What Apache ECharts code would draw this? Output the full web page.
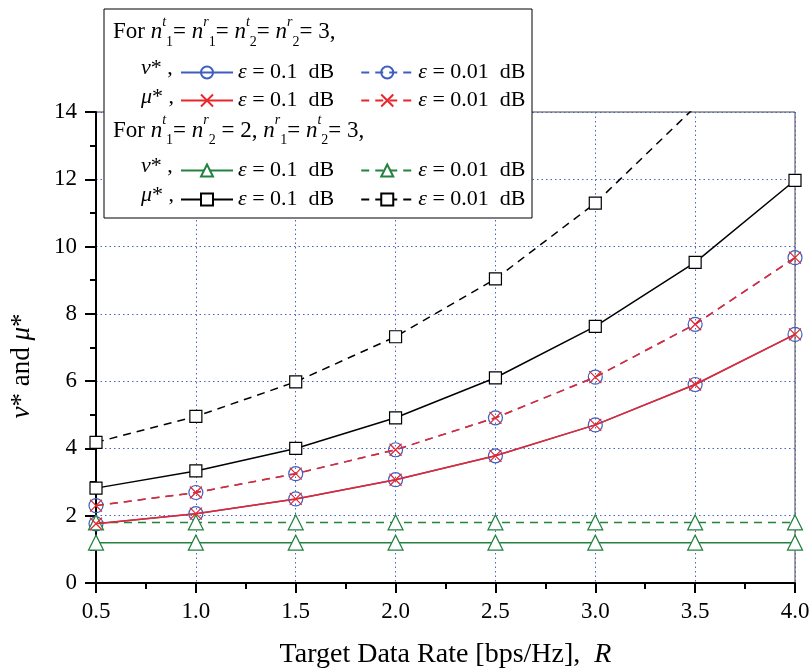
<!DOCTYPE html>
<html>
<head>
<meta charset="utf-8">
<script src="https://cdn.jsdelivr.net/npm/echarts@6/dist/echarts.min.js"></script>
<style>html,body{margin:0;padding:0;background:#fff}#c{width:812px;height:672px}</style>
</head>
<body>
<div id="c"></div>
<script>
// ---- data ----
var rates = [0.5, 1.0, 1.5, 2.0, 2.5, 3.0, 3.5, 4.0];
var nuCaseA_eps01  = [1.76, 2.06, 2.50, 3.07, 3.78, 4.70, 5.90, 7.39];
var muCaseA_eps01  = [1.76, 2.06, 2.50, 3.07, 3.78, 4.70, 5.90, 7.39];
var nuCaseA_eps001 = [2.30, 2.69, 3.25, 3.96, 4.91, 6.12, 7.69, 9.67];
var muCaseA_eps001 = [2.30, 2.69, 3.25, 3.96, 4.91, 6.12, 7.69, 9.67];
var nuCaseB_eps01  = [1.20, 1.20, 1.20, 1.20, 1.20, 1.20, 1.20, 1.20];
var nuCaseB_eps001 = [1.80, 1.80, 1.80, 1.80, 1.80, 1.80, 1.80, 1.80];
var muCaseB_eps01  = [2.82, 3.33, 4.00, 4.91, 6.10, 7.63, 9.53, 11.97];
var muCaseB_eps001 = [4.18, 4.95, 5.98, 7.32, 9.04, 11.29, 14.15, 17.8];
var yTicks = [0, 2, 4, 6, 8, 10, 12, 14];
var xTicks = ['0.5', '1.0', '1.5', '2.0', '2.5', '3.0', '3.5', '4.0'];
var epsLabels = {eps01: '{e|\u03b5} = 0.1  dB', eps001: '{e|\u03b5} = 0.01  dB'};

var FONT = 'Liberation Serif';
var BLUE = '#3f5fbf', RED = '#e8262c', GREEN = '#23823f', BLACK = '#000000';
var CROSS = 'path://M0,0L10,10M10,0L0,10';

function pairs(ys) { return rates.map(function (x, i) { return [x, ys[i]]; }); }

function mk(name, ys, color, dashed, symbol, size, fill, z) {
  return {
    name: name, type: 'line', data: pairs(ys), z: z,
    symbol: symbol, symbolSize: size, showSymbol: true, showAllSymbol: true,
    clip: true, animation: false,
    lineStyle: {color: color, width: 1.5, type: dashed ? [8, 6] : 'solid'},
    itemStyle: {color: fill, borderColor: color, borderWidth: 1.2},
    emphasis: {disabled: true}
  };
}

var series = [
  mk('A_nu_01',  nuCaseA_eps01,  BLUE,  false, 'circle', 14, 'rgba(255,255,255,0)', 2),
  mk('A_nu_001', nuCaseA_eps001, BLUE,  true,  'circle', 14, 'rgba(255,255,255,0)', 2),
  mk('A_mu_01',  muCaseA_eps01,  RED,   false, CROSS, 12, 'none', 3),
  mk('A_mu_001', muCaseA_eps001, RED,   true,  CROSS, 12, 'none', 3),
  mk('B_nu_01',  nuCaseB_eps01,  GREEN, false, 'triangle', 15, '#fff', 2),
  mk('B_nu_001', nuCaseB_eps001, GREEN, true,  'triangle', 15, '#fff', 2),
  mk('B_mu_01',  muCaseB_eps01,  BLACK, false, 'rect', 12, '#fff', 2),
  mk('B_mu_001', muCaseB_eps001, BLACK, true,  'rect', 12, '#fff', 2)
];

function legendRow(top, a, b) {
  return {
    data: [a, b], left: 180, top: top, orient: 'horizontal', padding: 0,
    itemWidth: 52, itemHeight: 15, itemGap: 26, selectedMode: false, z: 6,
    formatter: function (n) { return /_001$/.test(n) ? epsLabels.eps001 : epsLabels.eps01; },
    textStyle: {fontFamily: FONT, fontSize: 22, color: '#000',
      rich: {e: {fontFamily: FONT, fontSize: 22, fontStyle: 'italic', color: '#000'}}}
  };
}

var richHead = {
  t: {fontFamily: FONT, fontSize: 23, lineHeight: 34, color: '#000'},
  i: {fontFamily: FONT, fontSize: 23, fontStyle: 'italic', lineHeight: 34, color: '#000'},
  sup: {fontFamily: FONT, fontSize: 14, fontStyle: 'italic', lineHeight: 28, verticalAlign: 'top', color: '#000'},
  sub: {fontFamily: FONT, fontSize: 14, lineHeight: 4, verticalAlign: 'bottom', color: '#000'}
};
var richRow = {
  t: {fontFamily: FONT, fontSize: 22, lineHeight: 28, color: '#000'},
  i: {fontFamily: FONT, fontSize: 22, fontStyle: 'italic', lineHeight: 28, color: '#000'}
};
function nn(sup, sub) { return '{i|n}{sup|' + sup + '}{sub|' + sub + '}'; }
var head1 = '{t|For }' + nn('t', '1') + '{t|= }' + nn('r', '1') + '{t|= }' + nn('t', '2') + '{t|= }' + nn('r', '2') + '{t|= 3,}';
var head2 = '{t|For }' + nn('t', '1') + '{t|= }' + nn('r', '2') + '{t| = 2, }' + nn('r', '1') + '{t|= }' + nn('t', '2') + '{t|= 3,}';

function rowLabel(top, greek) {
  return {type: 'text', left: 141, top: top, z: 6,
    style: {text: '{i|' + greek + '}{t|* ,}', rich: richRow}};
}

var chart = echarts.init(document.getElementById('c'), null, {renderer: 'canvas'});
chart.setOption({
  backgroundColor: '#fff',
  animation: false,
  grid: {left: 96, right: 17, top: 112, bottom: 89, show: true, borderColor: '#444', borderWidth: 1,
    backgroundColor: 'transparent', containLabel: false, outerBoundsMode: 'none'},
  xAxis: {
    type: 'value', min: 0.5, max: 4.0, interval: 0.5,
    name: '{n|Target Data Rate [bps/Hz],  }{i|R}', nameLocation: 'middle', nameGap: 58,
    nameTextStyle: {rich: {
      n: {fontFamily: FONT, fontSize: 28, color: '#000'},
      i: {fontFamily: FONT, fontSize: 28, fontStyle: 'italic', color: '#000'}}},
    axisLine: {show: true, onZero: false, lineStyle: {color: '#000', width: 2}},
    axisTick: {show: true, inside: false, length: 10, lineStyle: {color: '#000', width: 2}},
    minorTick: {show: true, splitNumber: 2, length: 6, lineStyle: {color: '#000', width: 2}},
    axisLabel: {fontFamily: FONT, fontSize: 23, color: '#000', margin: 17,
      formatter: function (v) { var i = rates.indexOf(v); return i >= 0 ? xTicks[i] : ''; }},
    splitLine: {show: true, lineStyle: {color: '#4a63c4', width: 1, type: [1.5, 3]}}
  },
  yAxis: {
    type: 'value', min: 0, max: 14, interval: 2,
    axisLine: {show: true, onZero: false, lineStyle: {color: '#000', width: 2}},
    axisTick: {show: true, inside: false, length: 11, lineStyle: {color: '#000', width: 2}},
    minorTick: {show: true, splitNumber: 2, length: 6, lineStyle: {color: '#000', width: 2}},
    axisLabel: {fontFamily: FONT, fontSize: 23, color: '#000', margin: 19,
      formatter: function (v) { return yTicks.indexOf(v) >= 0 ? String(v) : ''; }},
    splitLine: {show: true, lineStyle: {color: '#4a63c4', width: 1, type: [1.5, 3]}}
  },
  legend: [
    legendRow(61.5, 'A_nu_01', 'A_nu_001'),
    legendRow(89.5, 'A_mu_01', 'A_mu_001'),
    legendRow(159.5, 'B_nu_01', 'B_nu_001'),
    legendRow(188.5, 'B_mu_01', 'B_mu_001')
  ],
  graphic: [
    {type: 'text', z: 6, x: 22, y: 366, rotation: Math.PI / 2,
      style: {text: '{i|\u03bd}{n|* and }{i|\u03bc}{n|*}', align: 'center', verticalAlign: 'middle',
        rich: {n: {fontFamily: FONT, fontSize: 27, color: '#000'},
               i: {fontFamily: FONT, fontSize: 27, fontStyle: 'italic', color: '#000'}}}},
    {type: 'rect', z: 5, shape: {x: 104, y: 9, width: 428, height: 209},
      style: {fill: '#fff', stroke: '#000', lineWidth: 1}},
    {type: 'text', left: 113, top: 15, z: 6, style: {text: head1, rich: richHead}},
    {type: 'text', left: 113, top: 113.5, z: 6, style: {text: head2, rich: richHead}},
    rowLabel(57.5, '\u03bd'),
    rowLabel(86.5, '\u03bc'),
    rowLabel(155.5, '\u03bd'),
    rowLabel(184, '\u03bc')
  ],
  series: series
});
</script>
</body>
</html>
